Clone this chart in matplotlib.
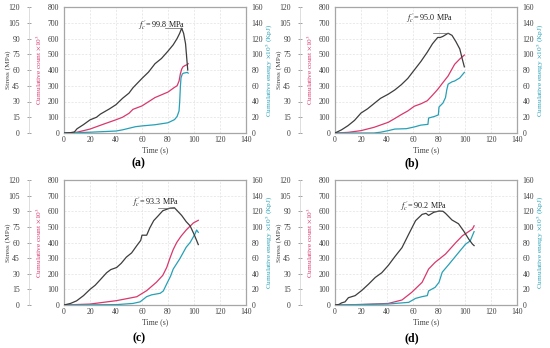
import numpy as np
import matplotlib.pyplot as plt

plt.rcParams['font.family'] = ['Liberation Serif', 'DejaVu Serif']
plt.rcParams['mathtext.fontset'] = 'stix'

c_stress = '#3d3d3d'
c_count = '#d8386c'
c_energy = '#27a0b6'
c_frame = '#a6a6a6'

# ---- (a) ----
ta_s = [0, 5, 8, 10, 15, 20, 25, 28, 35, 40, 45, 50, 53, 60, 65, 70, 75, 80, 84, 87, 89, 90.5, 92, 93.5, 94.5, 95.2]
sa = [0, 0.3, 1, 4, 8, 12.5, 15, 18, 23, 27, 33, 38, 43, 52, 58, 66, 71, 78, 84, 90, 95, 99.8, 95, 85, 70, 60]
ta_c = [0, 5, 10, 20, 30, 40, 45, 50, 53, 60, 70, 80, 85, 87, 88.5, 89.5, 90.5, 91.5, 93, 95, 95.5]
ca = [0, 1, 5, 25, 55, 84, 100, 125, 150, 172, 225, 260, 290, 300, 330, 375, 405, 420, 428, 435, 440]
ta_e = [0, 20, 40, 45, 50, 55, 60, 70, 80, 85, 87, 88.5, 89, 89.5, 90, 91, 92, 95, 95.5]
ea = [0, 1, 2.5, 4, 6, 8, 9, 10.5, 13, 17, 21, 28, 40, 58, 70, 75, 76, 77, 76]

# ---- (b) ----
tb_s = [0, 5, 10, 15, 20, 25, 30, 35, 41, 46, 51, 56, 61, 66, 71, 75, 79, 81, 83, 87, 90, 93, 96, 98, 99.5]
sb = [0, 3, 7, 12, 19, 23, 28, 33, 37, 41, 46, 52, 60, 68, 77, 85, 91, 91, 92, 95, 93, 87, 80, 70, 63]
tb_c = [0, 10, 20, 30, 41, 46, 51, 56, 61, 66, 71, 75, 79, 83, 87, 92, 96, 99.5]
cb = [0, 4, 15, 36, 68, 92, 117, 140, 170, 185, 205, 240, 277, 320, 362, 436, 470, 495]
tb_e = [0, 30, 35, 41, 46, 55, 61, 66, 71.5, 72, 76.5, 79.5, 80, 83, 85, 86, 87, 90, 92, 96, 99.5]
eb = [0, 0, 1, 3, 5, 5.5, 7.7, 10, 11, 19, 21, 23, 33, 38, 45, 55, 62, 65, 66, 70, 77]

# ---- (c) ----
tc_s = [0, 5, 9.7, 15, 20, 24, 27.7, 32.8, 36, 40.5, 44, 48, 52, 56, 59, 60, 63.6, 66, 69, 72, 76, 81.5, 85, 90.5, 94, 97, 100, 102, 103.3]
sc = [0, 1.5, 4, 9, 15, 19, 24, 31, 34, 36, 40, 46, 50, 57, 62, 67, 67, 74, 81, 85, 90.5, 93, 93.3, 86, 80, 76, 68, 62, 58]
tc_c = [0, 20, 40.5, 56, 63.6, 71, 76, 79, 81.5, 84, 86.7, 90, 94, 99.5, 103.3]
cc = [0, 6, 28, 53, 92, 145, 190, 240, 300, 355, 400, 440, 480, 525, 542]
tc_e = [0, 40.5, 53, 58.5, 63.6, 67.4, 74, 76.4, 79, 82, 84, 89, 94, 97, 100.8, 102, 103.3]
ec = [0, 0.5, 2, 4, 10.7, 13, 15, 18, 27, 37, 46, 59, 74, 80, 91, 96, 93]

# ---- (d) ----
td_s = [0, 3, 5, 7.7, 10.3, 15.5, 20.6, 25.8, 31, 36, 41, 46.4, 51.5, 56.7, 62, 67, 70, 72, 76, 80, 83, 85, 90, 95, 99, 103, 105.7, 107]
sd = [0, 0.5, 2, 3, 7, 9, 14, 20, 26.5, 31, 38, 47, 55, 68, 81, 87, 88, 86, 89, 90.2, 90, 88, 81.6, 78, 71, 63, 58.5, 57]
td_c = [0, 20, 41, 51.5, 59, 67, 72, 77, 85, 93, 98, 105.7, 107]
cd = [0, 3, 10, 32, 81, 145, 230, 273, 326, 400, 443, 486, 507]
td_e = [0, 41, 56.7, 62, 67, 71, 72, 77, 80, 82.5, 87.6, 95, 100.5, 104, 107]
ed = [0, 1.3, 3.4, 8.5, 10.7, 12, 18, 22.6, 29, 42, 52, 67, 78, 82, 94]

peak_labels = ["99.8", "95.0", "93.3", "90.2"]
panel_names = ["(a)", "(b)", "(c)", "(d)"]

W, H = 550, 348
fig = plt.figure(figsize=(5.5, 3.48), dpi=100)

# pixel boxes: left, right, top, bottom
boxes = [(64, 246, 7, 133), (335, 517, 7, 133), (64, 246, 180, 305), (335, 517, 180, 305)]
# annotation text pos (t, count) and leader start
ann = [((57, 686), 78), ((55, 728), 75), ((52, 659), 72), ((50, 634), 71)]
label_pos = [(138, 163), (412, 163), (139, 338), (412, 338)]

series = [(ta_s, sa, ta_c, ca, ta_e, ea), (tb_s, sb, tb_c, cb, tb_e, eb),
          (tc_s, sc, tc_c, cc, tc_e, ec), (td_s, sd, td_c, cd, td_e, ed)]

fs = 5.6
lfs = 5.3
for i, (l, r, t, b) in enumerate(boxes):
    ax = fig.add_axes([l / W, 1 - b / H, (r - l) / W, (b - t) / H])
    ts, s, tcn, cn, te, e = series[i]
    w = r - l
    ax.set_xlim(0, 140)
    ax.set_ylim(0, 800)
    ax.set_xticks(np.arange(0, 141, 20))
    ax.set_yticks(np.arange(0, 801, 100))
    ax.grid(True, color='#e2e2e2', linestyle=(0, (3, 2)), linewidth=0.5)
    for sp in ax.spines.values():
        sp.set_color(c_frame)
        sp.set_linewidth(0.9)
    ax.tick_params(labelsize=fs, length=0, colors='#404040')
    ax.tick_params(axis='y', pad=3.5)
    ax.tick_params(axis='x', pad=2.5)
    ax.set_xlabel("Time (s)", fontsize=fs, color='#404040', labelpad=1)
    ax.set_ylabel(r"Cumulative count $\times$10$^3$", fontsize=lfs, color=c_count)
    ax.yaxis.set_label_coords(-21 / w, 0.5)
    ax.plot(tcn, cn, color=c_count, lw=0.9)

    axe = ax.twinx()
    axe.set_ylim(0, 160)
    axe.set_yticks(np.arange(0, 161, 20))
    axe.tick_params(labelsize=fs, length=0, pad=4, colors='#404040')
    axe.spines[:].set_visible(False)
    axe.set_ylabel(r"Cumulative energy $\times$10$^5$ (KpJ)", fontsize=lfs, color=c_energy)
    axe.yaxis.set_label_coords(1 + 18 / w, 0.5)
    axe.plot(te, e, color=c_energy, lw=0.9)

    axs = ax.twinx()
    axs.set_ylim(0, 120)
    axs.set_yticks(np.arange(0, 121, 15))
    axs.spines[:].set_visible(False)
    axs.spines['left'].set_visible(True)
    axs.spines['left'].set_position(('axes', -35 / w))
    axs.spines['left'].set_color('#d0d0d0')
    axs.spines['left'].set_linewidth(0.5)
    axs.yaxis.set_ticks_position('left')
    axs.yaxis.set_label_position('left')
    axs.tick_params(labelsize=fs, length=3, width=0.6, direction='inout', pad=5,
                    colors='#404040')
    axs.tick_params(axis='y', color='#909090')
    axs.set_ylabel("Stress (MPa)", fontsize=lfs, color='#404040')
    axs.yaxis.set_label_coords(-53 / w, 0.5)
    axs.plot(ts, s, color=c_stress, lw=0.9)

    # peak annotation
    (tx, ty), x0 = ann[i]
    pk = int(np.argmax(s))
    axs.text(tx, ty * 0.15, r"$f_c^{\,\prime}$= " + peak_labels[i] + " MPa",
             fontsize=fs + 0.3, color='#202020', ha='left', va='center')
    axs.plot([x0, ts[pk]], [s[pk], s[pk]], color='#606060', lw=0.5)

    fig.text(label_pos[i][0] / W, 1 - label_pos[i][1] / H, panel_names[i],
             fontsize=8.5, fontweight='bold', ha='center', va='center')

fig.savefig("out.png", dpi=100)
